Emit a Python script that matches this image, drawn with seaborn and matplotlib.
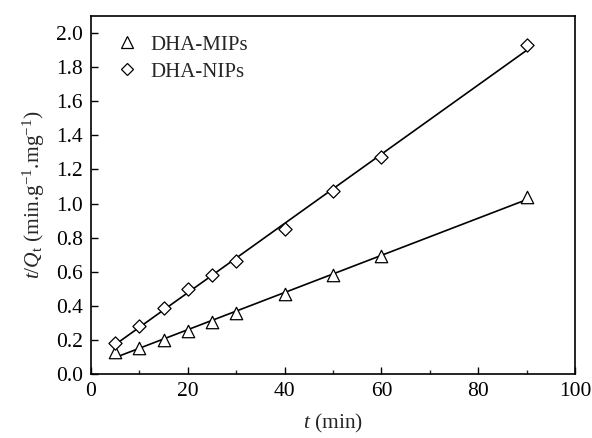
import numpy as np
import pandas as pd
import matplotlib
matplotlib.use("Agg")
import matplotlib.pyplot as plt
import seaborn as sns
from matplotlib.ticker import MultipleLocator, FormatStrFormatter
from matplotlib.lines import Line2D

# Pseudo-second-order kinetics: t/Qt versus t
time_min = [5, 10, 15, 20, 25, 30, 40, 50, 60, 90]
mips_tq = [0.13, 0.15, 0.20, 0.255, 0.305, 0.36, 0.47, 0.58, 0.69, 1.04]
nips_tq = [0.18, 0.28, 0.39, 0.50, 0.58, 0.66, 0.85, 1.075, 1.27, 1.93]
series_names = ["DHA-MIPs", "DHA-NIPs"]

sns.set_theme(style="ticks")
plt.rcParams["font.family"] = ["Liberation Serif", "DejaVu Serif"]
plt.rcParams["mathtext.fontset"] = "custom"
plt.rcParams["mathtext.rm"] = "Liberation Serif"
plt.rcParams["mathtext.it"] = "Liberation Serif:italic"

fig = plt.figure(figsize=(5.92, 4.38), dpi=100)
ax = fig.add_axes([0.1537, 0.1461, 0.8176, 0.8174])

df_m = pd.DataFrame({"t": time_min, "y": mips_tq})
df_n = pd.DataFrame({"t": time_min, "y": nips_tq})

line_kw = dict(color="black", lw=1.2)
sns.regplot(data=df_m, x="t", y="y", ax=ax, ci=None, scatter=False, line_kws=line_kw)
sns.regplot(data=df_n, x="t", y="y", ax=ax, ci=None, scatter=False, line_kws=line_kw)
sns.scatterplot(data=df_m, x="t", y="y", ax=ax, marker="^", s=80,
                facecolor="white", edgecolor="black", linewidth=0.9, zorder=3)
sns.scatterplot(data=df_n, x="t", y="y", ax=ax, marker="D", s=45,
                facecolor="white", edgecolor="black", linewidth=0.9, zorder=3)

ax.set_xlim(0, 100)
ax.set_ylim(0, 2.1)
ax.xaxis.set_major_locator(MultipleLocator(20))
ax.xaxis.set_minor_locator(MultipleLocator(10))
ax.yaxis.set_major_locator(MultipleLocator(0.2))
ax.yaxis.set_major_formatter(FormatStrFormatter("%.1f"))
ax.tick_params(axis="both", which="major", direction="in", length=5, width=1,
               labelsize=15.5, colors="black", pad=6)
ax.tick_params(axis="x", which="minor", direction="in", length=3, width=1)
for sp in ax.spines.values():
    sp.set_linewidth(1.2)
    sp.set_color("black")

ax.set_xlabel(r"$t$ (min)", fontsize=15.5, labelpad=8)
ax.set_ylabel(r"$t$/$Q_{\mathrm{t}}$ (min.g$^{-1}$.mg$^{-1}$)", fontsize=15.5, labelpad=6)

handles = [
    Line2D([], [], ls="none", marker="^", ms=8.5, mfc="white", mec="black", mew=0.9),
    Line2D([], [], ls="none", marker="D", ms=6.5, mfc="white", mec="black", mew=0.9),
]
ax.legend(handles, series_names, loc="upper left", frameon=False, fontsize=15,
          handlelength=1.0, handletextpad=0.6, borderaxespad=0.0,
          labelspacing=0.35, bbox_to_anchor=(0.036, 0.97))

fig.savefig("out.png", dpi=100)
